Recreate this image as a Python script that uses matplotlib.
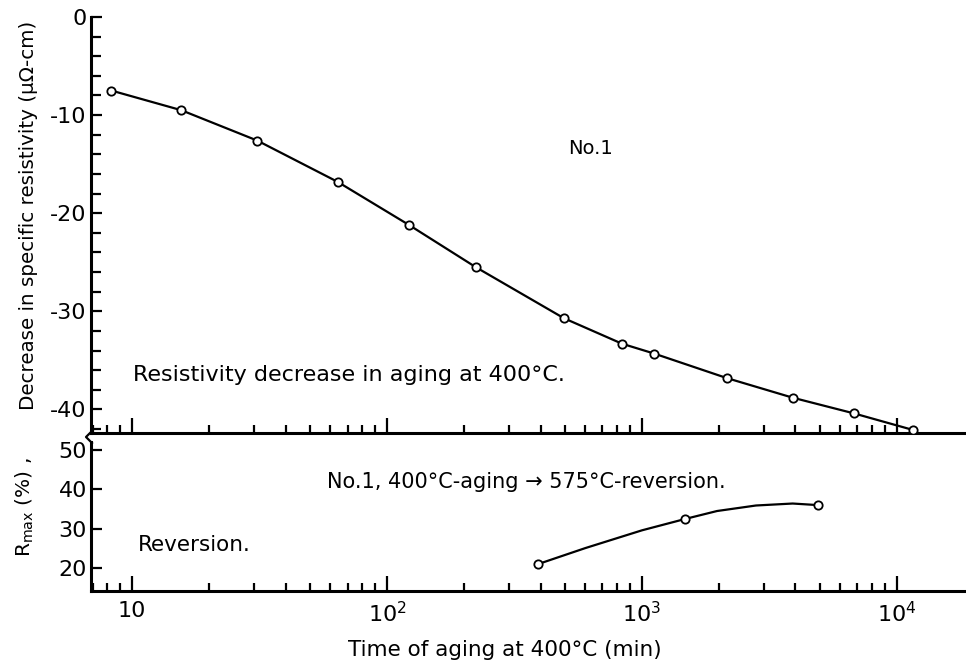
import numpy as np
import matplotlib.pyplot as plt
from matplotlib.ticker import LogLocator, NullFormatter, MultipleLocator, FixedLocator
from matplotlib.lines import Line2D

plt.rcParams['axes.unicode_minus'] = False
plt.rcParams['font.family'] = 'DejaVu Sans'

W, H = 966, 664

# resistivity decrease during aging at 400 C
aging_time = [8.3, 15.6, 31, 64, 122, 223, 494, 835, 1115, 2150, 3900, 6780, 11600]
resist_drop = [-7.5, -9.5, -12.6, -16.8, -21.2, -25.5, -30.7, -33.3, -34.3, -36.8, -38.8, -40.4, -42.1]

# reversion at 575 C after aging
rev_time = [390, 1480, 4900]
rev_rmax = [21.0, 32.5, 36.0]

# guide curve drawn through the reversion points
rev_line_time = [390, 600, 1000, 1480, 1970, 2800, 3900, 4900]
rev_line_rmax = [21.0, 25.1, 29.6, 32.5, 34.5, 35.9, 36.4, 36.0]

xticks = [10, 100, 1000, 10000]
xtick_labels = ['10', '$10^2$', '$10^3$', '$10^4$']
top_yticks = [0, -10, -20, -30, -40]
bot_yticks = [20, 30, 40, 50]


def fx(px):
    return px / W


def fy(py):
    return 1 - py / H


fig = plt.figure(figsize=(W / 100, H / 100), dpi=100)
ax1 = fig.add_axes([fx(91), fy(433), fx(875), 416 / H])
ax2 = fig.add_axes([fx(91), fy(591), fx(875), 158 / H])

for ax in (ax1, ax2):
    ax.set_xscale('log')
    ax.set_xlim(6.9, 18660)
    ax.spines['top'].set_visible(False)
    ax.spines['right'].set_visible(False)
    ax.spines['left'].set_linewidth(2.2)
    ax.spines['bottom'].set_linewidth(2.2)
    ax.set_xticks(xticks)
    ax.xaxis.set_minor_locator(LogLocator(base=10, subs=np.arange(2, 10)))
    ax.xaxis.set_minor_formatter(NullFormatter())
    ax.tick_params(axis='x', which='major', direction='in', length=11, width=1.6)
    ax.tick_params(axis='x', which='minor', direction='in', length=6, width=1.6)
    ax.tick_params(axis='y', which='major', direction='in', length=8, width=1.6, labelsize=16, pad=3)
    ax.tick_params(axis='y', which='minor', direction='in', length=7, width=1.6)
    ax.patch.set_alpha(0)

# upper panel
ax1.plot(aging_time, resist_drop, '-', color='black', lw=1.6, marker='o', ms=6,
         mfc='white', mec='black', mew=1.3, zorder=3)
ax1.set_ylim(-42.4, 0)
ax1.yaxis.set_major_locator(FixedLocator(top_yticks))
ax1.yaxis.set_minor_locator(MultipleLocator(2))
ax1.tick_params(axis='x', labelbottom=False)
ax1.set_ylabel(u'Decrease in specific resistivity (\u03bc\u03a9-cm)', fontsize=14.3)
ax1.yaxis.set_label_coords(-0.060, 0.522)

# lower panel
ax2.plot(rev_line_time, rev_line_rmax, '-', color='black', lw=1.6, zorder=2)
ax2.plot(rev_time, rev_rmax, 'o', ms=6, mfc='white', mec='black', mew=1.3, zorder=3)
ax2.set_ylim(14.2, 54.3)
ax2.yaxis.set_major_locator(FixedLocator(bot_yticks))
ax2.spines['left'].set_bounds(14.2, 52)
ax2.set_xticklabels(xtick_labels)
ax2.tick_params(axis='x', labelsize=16, pad=7)
ax2.set_ylabel(r'R$_{\mathrm{max}}$ (%) ,', fontsize=14.5)
ax2.yaxis.set_label_coords(-0.063, 0.53)

# axis break mark on the left spine
fig.add_artist(Line2D([fx(91), fx(86), fx(92)], [fy(432), fy(437), fy(443)],
                      color='black', lw=1.6))

# annotations
fig.text(fx(591), fy(148), 'No.1', fontsize=14, ha='center', va='center')
fig.text(fx(133), fy(375), u'Resistivity decrease in aging at 400\u00b0C.', fontsize=16,
         ha='left', va='center')
fig.text(fx(327), fy(482), u'No.1, 400\u00b0C-aging \u2192 575\u00b0C-reversion.', fontsize=15,
         ha='left', va='center')
fig.text(fx(138), fy(545), 'Reversion.', fontsize=15.5, ha='left', va='center')
fig.text(fx(505), fy(650), u'Time of aging at 400\u00b0C (min)', fontsize=15.5,
         ha='center', va='center')

fig.savefig('out.png', dpi=100)
